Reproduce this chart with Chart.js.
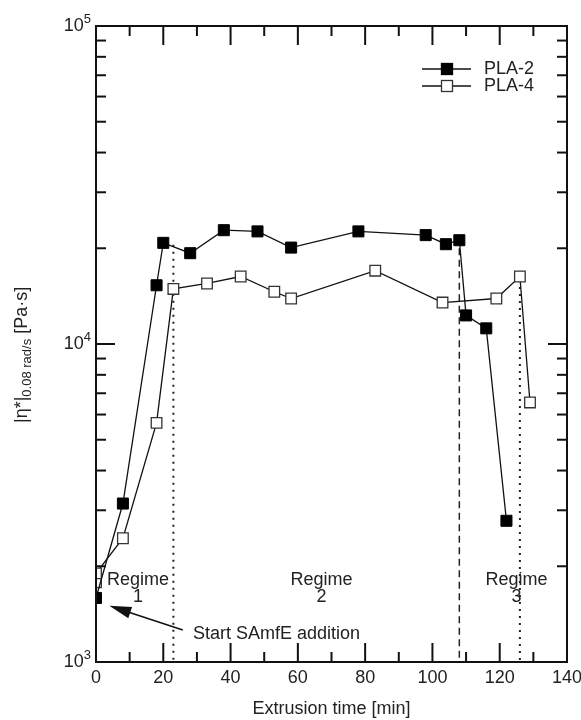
<!DOCTYPE html>
<html>
<head>
<meta charset="utf-8">
<script src="https://cdn.jsdelivr.net/npm/chart.js@4/dist/chart.umd.min.js"></script>
<style>
  html, body { margin: 0; padding: 0; background: #fff; }
  #wrap { width: 581px; height: 720px; position: relative; }
</style>
</head>
<body>
<div id="wrap"><canvas id="chart"></canvas></div>
<script>
// values
const timePLA2 = [0, 8, 18, 20, 28, 38, 48, 58, 78, 98, 104, 108, 110, 116, 122];
const etaPLA2 = [1590, 3150, 15300, 20800, 19300, 22800, 22600, 20100, 22600, 22000, 20600, 21200, 12300, 11200, 2780];

const timePLA4 = [0, 0, 8, 18, 23, 33, 43, 53, 58, 83, 103, 119, 126, 129];
const etaPLA4 = [1780, 1900, 2450, 5650, 14900, 15500, 16300, 14600, 13900, 17000, 13500, 13900, 16300, 6550];

// regime boundaries: x position and where the line starts at the top
const regimeBoundX = [23, 108, 126];
const regimeBoundTop = [20500, 20000, 15100];

const regimeLabels = ['1', '2', '3'];
const regimeLabelX = [12.5, 67, 125];

const xMajorTicks = [0, 20, 40, 60, 80, 100, 120, 140];
const xMinorTicks = [10, 30, 50, 70, 90, 110, 130];
const yMajorTicks = [1000, 10000, 100000];
const yMinorTicks = [2000, 3000, 4000, 5000, 6000, 7000, 8000, 9000,
                     20000, 30000, 40000, 50000, 60000, 70000, 80000, 90000];

const FONT = '"Liberation Sans", Arial, sans-serif';
Chart.defaults.font.family = FONT;
Chart.defaults.color = '#222';

const toPts = (xs, ys) => xs.map((x, i) => ({x: x, y: ys[i]}));

// boundary lines as two-point datasets
const boundSet = (i, dash, w) => ({
  label: '',
  data: [{x: regimeBoundX[i], y: regimeBoundTop[i]}, {x: regimeBoundX[i], y: 1000}],
  borderColor: '#222',
  borderWidth: w,
  borderDash: dash,
  pointRadius: 0,
  showLine: true,
  order: 3,
  clip: 0
});

// axes frame, inward ticks, y labels, texts, arrow, legend
const extras = {
  id: 'extras',
  afterDraw(chart) {
    const {ctx, chartArea: a, scales: {x, y}} = chart;
    const seg = (x1, y1, x2, y2) => { ctx.beginPath(); ctx.moveTo(x1, y1); ctx.lineTo(x2, y2); ctx.stroke(); };
    ctx.save();
    ctx.strokeStyle = '#111';
    ctx.lineWidth = 2;
    ctx.strokeRect(a.left, a.top, a.right - a.left, a.bottom - a.top);

    xMajorTicks.forEach(v => { const p = x.getPixelForValue(v); seg(p, a.bottom, p, a.bottom - 19); seg(p, a.top, p, a.top + 19); });
    xMinorTicks.forEach(v => { const p = x.getPixelForValue(v); seg(p, a.bottom, p, a.bottom - 10); seg(p, a.top, p, a.top + 10); });
    yMajorTicks.forEach(v => { const p = y.getPixelForValue(v); seg(a.left, p, a.left + 19, p); seg(a.right, p, a.right - 19, p); });
    yMinorTicks.forEach(v => { const p = y.getPixelForValue(v); seg(a.left, p, a.left + 10, p); seg(a.right, p, a.right - 10, p); });

    // y tick labels 10^n
    ctx.fillStyle = '#222';
    ctx.textBaseline = 'middle';
    yMajorTicks.forEach(v => {
      const p = y.getPixelForValue(v);
      const e = String(Math.round(Math.log10(v)));
      ctx.font = '13px ' + FONT;
      const ew = ctx.measureText(e).width;
      ctx.textAlign = 'left';
      ctx.fillText(e, a.left - 5 - ew, p - 7);
      ctx.font = '18px ' + FONT;
      ctx.textAlign = 'right';
      ctx.fillText('10', a.left - 5 - ew, p);
    });

    // regime texts
    ctx.font = '18px ' + FONT;
    ctx.textAlign = 'center';
    regimeLabels.forEach((t, i) => {
      const px = x.getPixelForValue(regimeLabelX[i]);
      ctx.fillText('Regime', px, y.getPixelForValue(1811));
      ctx.fillText(t, px, y.getPixelForValue(1601));
    });
    ctx.textAlign = 'left';
    ctx.fillText('Start SAmfE addition', x.getPixelForValue(28.8), y.getPixelForValue(1225));

    // arrow
    const x0 = x.getPixelForValue(25.8), y0 = y.getPixelForValue(1261);
    const x1 = x.getPixelForValue(3.95), y1 = y.getPixelForValue(1503);
    const ang = Math.atan2(y1 - y0, x1 - x0);
    ctx.lineWidth = 1.5;
    ctx.strokeStyle = '#111';
    seg(x0, y0, x1 - 15 * Math.cos(ang), y1 - 15 * Math.sin(ang));
    ctx.beginPath();
    ctx.moveTo(x1, y1);
    ctx.lineTo(x1 - 22 * Math.cos(ang) + 6 * Math.sin(ang), y1 - 22 * Math.sin(ang) - 6 * Math.cos(ang));
    ctx.lineTo(x1 - 22 * Math.cos(ang) - 6 * Math.sin(ang), y1 - 22 * Math.sin(ang) + 6 * Math.cos(ang));
    ctx.closePath();
    ctx.fillStyle = '#111';
    ctx.fill();

    // legend
    const sets = chart.data.datasets.slice(0, 2);
    sets.forEach((ds, i) => {
      const ly = 69 + i * 17;
      ctx.strokeStyle = '#111';
      ctx.lineWidth = 1.3;
      seg(422, ly, 471, ly);
      ctx.fillStyle = ds.pointBackgroundColor;
      ctx.fillRect(441.5, ly - 5.5, 11, 11);
      ctx.strokeStyle = ds.pointBorderColor;
      ctx.lineWidth = 1.3;
      ctx.strokeRect(441.5, ly - 5.5, 11, 11);
      ctx.fillStyle = '#222';
      ctx.font = '18px ' + FONT;
      ctx.textAlign = 'left';
      ctx.fillText(ds.label, 484, ly);
    });

    // y axis title with subscript
    ctx.translate(27, 423);
    ctx.rotate(-Math.PI / 2);
    ctx.textBaseline = 'alphabetic';
    ctx.textAlign = 'left';
    ctx.fillStyle = '#222';
    let cx = 0;
    ctx.font = '18px ' + FONT;
    ctx.fillText('|\u03b7*|', cx, 0);
    cx += ctx.measureText('|\u03b7*|').width;
    ctx.font = '13px ' + FONT;
    ctx.fillText('0.08 rad/s', cx, 4);
    cx += ctx.measureText('0.08 rad/s').width;
    ctx.font = '18px ' + FONT;
    ctx.fillText(' [Pa\u00b7s]', cx, 0);
    ctx.restore();
  }
};

new Chart(document.getElementById('chart'), {
  type: 'scatter',
  data: {
    datasets: [
      { label: 'PLA-2',
        data: toPts(timePLA2, etaPLA2),
        showLine: true,
        borderColor: '#111',
        borderWidth: 1.3,
        pointStyle: 'rect',
        pointRadius: 7.8,
        pointBackgroundColor: '#000',
        pointBorderColor: '#000',
        pointBorderWidth: 1,
        order: 0,
        clip: 0 },
      { label: 'PLA-4',
        data: toPts(timePLA4, etaPLA4),
        showLine: true,
        borderColor: '#111',
        borderWidth: 1.3,
        pointStyle: 'rect',
        pointRadius: 7.5,
        pointBackgroundColor: '#fff',
        pointBorderColor: '#333',
        pointBorderWidth: 1.3,
        order: 1,
        clip: 0 },
      boundSet(0, [2, 5], 2),
      boundSet(1, [7, 4.5], 1.5),
      boundSet(2, [2, 5], 2)
    ]
  },
  options: {
    responsive: true,
    maintainAspectRatio: false,
    animation: false,
    events: [],
    layout: { padding: { top: 26, right: 14, left: 0, bottom: 0 } },
    plugins: {
      legend: { display: false },
      tooltip: { enabled: false }
    },
    scales: {
      x: {
        type: 'linear',
        min: 0,
        max: 140,
        grid: { display: false },
        border: { display: false },
        ticks: { stepSize: 20, padding: -3, font: { size: 18 }, color: '#222', maxRotation: 0 },
        title: { display: true, text: 'Extrusion time [min]', font: { size: 18 }, color: '#222', padding: { top: 0, bottom: 0 } },
        afterFit(scale) { scale.height = 58; scale.paddingLeft = 0; scale.paddingRight = 0; }
      },
      y: {
        type: 'logarithmic',
        min: 1000,
        max: 100000,
        grid: { display: false },
        border: { display: false },
        ticks: { display: false },
        afterFit(scale) { scale.width = 96; scale.paddingTop = 0; scale.paddingBottom = 0; }
      }
    }
  },
  plugins: [extras]
});
</script>
</body>
</html>
